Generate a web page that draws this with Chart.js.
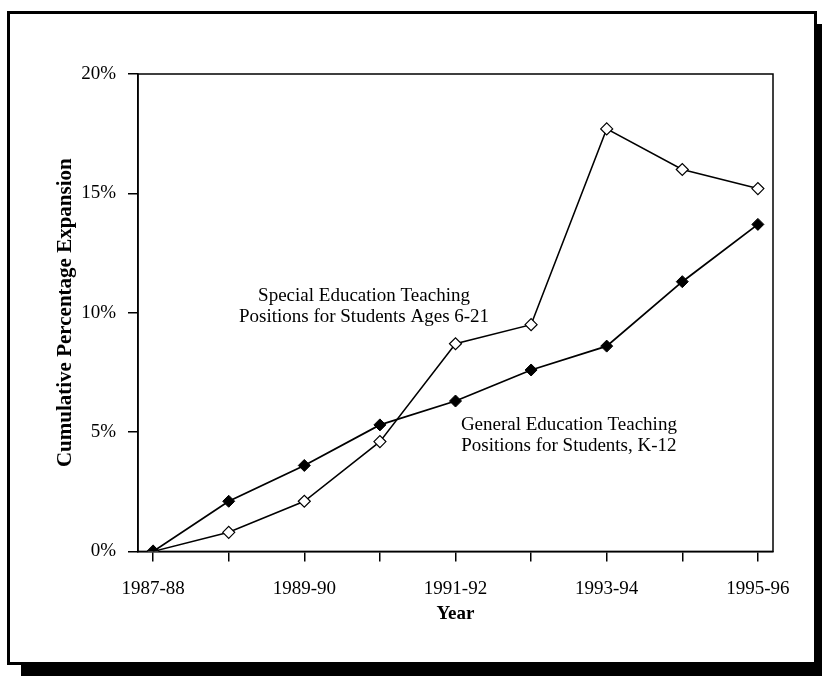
<!DOCTYPE html>
<html>
<head>
<meta charset="utf-8">
<script src="https://cdn.jsdelivr.net/npm/chart.js@4.4.0/dist/chart.umd.min.js"></script>
<style>
  html, body { margin: 0; padding: 0; background: #fff; }
  .frame {
    position: absolute; left: 7px; top: 11px;
    width: 810px; height: 654px; box-sizing: border-box;
    border: 3px solid #000; box-shadow: 14px 13px 0 #000;
  }
  #chart { position: absolute; left: 0; top: 0; }
</style>
</head>
<body>
<div class="frame"></div>
<canvas id="chart" width="822" height="676"></canvas>
<script>
const years = ['1987-88', '1988-89', '1989-90', '1990-91', '1991-92', '1992-93', '1993-94', '1994-95', '1995-96'];
const specialEd = [0, 0.8, 2.1, 4.6, 8.7, 9.5, 17.7, 16.0, 15.2];
const generalEd = [0, 2.1, 3.6, 5.3, 6.3, 7.6, 8.6, 11.3, 13.7];
const yTicks = [0, 5, 10, 15, 20];
const specialLabel = ['Special Education Teaching', 'Positions for Students Ages 6-21'];
const generalLabel = ['General Education Teaching', 'Positions for Students, K-12'];

const serif = '"Liberation Serif", "Times New Roman", serif';

// box round the plot area, and the two text labels
const plotBox = {
  id: 'plotBox',
  beforeDatasetsDraw(chart) {
    const { ctx, chartArea: a } = chart;
    ctx.save();
    ctx.strokeStyle = '#000';
    ctx.lineWidth = 1.5;
    ctx.strokeRect(a.left, a.top, a.right - a.left, a.bottom - a.top);
    ctx.restore();
  }
};

const notes = {
  id: 'notes',
  afterDatasetsDraw(chart, args, opts) {
    const { ctx, scales: { x, y } } = chart;
    ctx.save();
    ctx.font = '19px ' + serif;
    ctx.fillStyle = '#000';
    ctx.textAlign = 'center';
    ctx.textBaseline = 'middle';
    opts.items.forEach(item => {
      const px = x.getPixelForValue(item.x);
      const py = y.getPixelForValue(item.y);
      const n = item.lines.length;
      item.lines.forEach((line, i) => {
        ctx.fillText(line, px, py + (i - (n - 1) / 2) * 21);
      });
    });
    ctx.restore();
  }
};

const ctx = document.getElementById('chart').getContext('2d');

const chart = new Chart(ctx, {
  type: 'line',
  data: {
    datasets: [{
      label: generalLabel.join(' '),
      data: generalEd.map((v, i) => ({ x: i, y: v })),
      borderColor: '#000',
      borderWidth: 1.8,
      pointStyle: 'rectRot',
      pointRadius: 6,
      pointBackgroundColor: '#000',
      pointBorderColor: '#000',
      pointBorderWidth: 1,
      tension: 0
    }, {
      label: specialLabel.join(' '),
      data: specialEd.map((v, i) => ({ x: i, y: v })),
      borderColor: '#000',
      borderWidth: 1.5,
      pointStyle: 'rectRot',
      pointRadius: 6,
      pointBackgroundColor: '#fff',
      pointBorderColor: '#000',
      pointBorderWidth: 1.2,
      tension: 0
    }]
  },
  options: {
    responsive: false,
    animation: false,
    devicePixelRatio: 1,
    layout: { padding: { left: 49, top: 74, right: 49, bottom: 47 } },
    plugins: {
      legend: { display: false },
      tooltip: { enabled: false },
      notes: {
        items: [
          { x: 2.79, y: 10.25, lines: specialLabel },
          { x: 5.5, y: 4.84, lines: generalLabel }
        ]
      }
    },
    scales: {
      x: {
        type: 'linear',
        min: -0.2,
        max: 8.2,
        afterBuildTicks: s => { s.ticks = years.map((_, i) => ({ value: i })); },
        ticks: {
          autoSkip: false,
          maxRotation: 0,
          padding: 16,
          color: '#000',
          font: { family: serif, size: 19 },
          callback: v => (v % 2 === 0 ? years[v] : '')
        },
        grid: { drawOnChartArea: false, tickLength: 10, color: '#000', lineWidth: 1.5 },
        border: { color: '#000', width: 1.5 },
        title: {
          display: true,
          text: 'Year',
          color: '#000',
          font: { family: serif, size: 19, weight: 'bold' },
          padding: { top: -14, bottom: 4 }
        }
      },
      y: {
        min: 0,
        max: 20,
        afterBuildTicks: s => { s.ticks = yTicks.map(v => ({ value: v })); },
        afterFit: s => { s.width = 89; },
        ticks: {
          padding: 12,
          color: '#000',
          font: { family: serif, size: 19 },
          callback: v => v + '%'
        },
        grid: { drawOnChartArea: false, tickLength: 10, color: '#000', lineWidth: 1.5 },
        border: { color: '#000', width: 1.5 },
        title: {
          display: true,
          text: 'Cumulative Percentage Expansion',
          color: '#000',
          font: { family: serif, size: 21, weight: 'bold' },
          padding: { top: 4, bottom: 4 }
        }
      }
    }
  },
  plugins: [plotBox, notes]
});
</script>
</body>
</html>
